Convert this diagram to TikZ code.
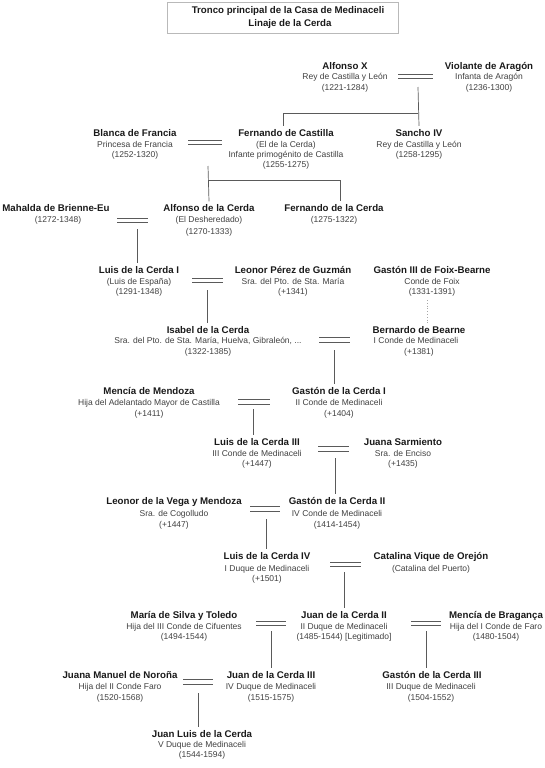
\documentclass[tikz,border=0pt]{standalone}
\usepackage{fontspec}
\setmainfont{Liberation Sans}
\definecolor{linec}{HTML}{5A5A5A}
\definecolor{subc}{HTML}{404040}
\definecolor{namec}{HTML}{1A1A1A}
\tikzset{
  pname/.style={anchor=base, inner xsep=0pt, inner ysep=3pt, text=namec, font=\fontsize{9.7}{11}\selectfont\bfseries},
  pline/.style={anchor=base, inner sep=0pt, text=subc, font=\fontsize{8.5}{10}\selectfont},
  conn/.style={draw=linec, line width=0.7pt},
  wed/.style={draw=linec, line width=0.7pt},
  dotconn/.style={draw=gray!70, line width=0.8pt, dotted}
}
\begin{document}
\begin{tikzpicture}[x=1pt,y=-1pt]
\useasboundingbox (0,0) rectangle (545,768);
% title
\node[draw=gray!55, line width=0.6pt, minimum width=231pt, minimum height=31pt, inner sep=0pt] (titlebox) at (282.5,17.5) {};
\node[pname, inner ysep=0pt] (t1) at (288,13.5) {Tronco principal de la Casa de Medinaceli};
\node[pname, inner ysep=0pt] (t2) at (290,26.5) {Linaje de la Cerda};

% Row 1
\node[pname] (alf) at (345,69.5) {Alfonso X};
\node[pline] (alf1) at (345,79.5) {Rey de Castilla y León};
\node[pline] (alf2) at (345,90) {(1221-1284)};
\node[pname] (vio) at (489,69.5) {Violante de Aragón};
\node[pline] (vio1) at (489,79.5) {Infanta de Aragón};
\node[pline] (vio2) at (489,90) {(1236-1300)};

% Row 2
\node[pname] (bla) at (135,136) {Blanca de Francia};
\node[pline] (bla1) at (135,147) {Princesa de Francia};
\node[pline] (bla2) at (135,157) {(1252-1320)};
\node[pname] (fer) at (286,136) {Fernando de Castilla};
\node[pline] (fer1) at (286,147) {(El de la Cerda)};
\node[pline] (fer2) at (286,157) {Infante primogénito de Castilla};
\node[pline] (fer3) at (286,167) {(1255-1275)};
\node[pname] (san) at (419,136) {Sancho IV};
\node[pline] (san1) at (419,147) {Rey de Castilla y León};
\node[pline] (san2) at (419,157) {(1258-1295)};

% Row 3
\node[pname] (mah) at (56,211.5) {Mahalda de Brienne-Eu};
\node[pline] (mah1) at (58,222.5) {(1272-1348)};
\node[pname] (alc) at (209,211.5) {Alfonso de la Cerda};
\node[pline] (alc1) at (209,222.5) {(El Desheredado)};
\node[pline] (alc2) at (209,234) {(1270-1333)};
\node[pname] (fdc) at (334,211.5) {Fernando de la Cerda};
\node[pline] (fdc1) at (334,222.5) {(1275-1322)};

% Row 4
\node[pname] (lu1) at (139,273.5) {Luis de la Cerda I};
\node[pline] (lu11) at (139,284) {(Luis de España)};
\node[pline] (lu12) at (139,294) {(1291-1348)};
\node[pname] (leo) at (293,273.5) {Leonor Pérez de Guzmán};
\node[pline] (leo1) at (293,284) {Sra. del Pto. de Sta. María};
\node[pline] (leo2) at (293,294) {(+1341)};
\node[pname] (gfx) at (432,273.5) {Gastón III de Foix-Bearne};
\node[pline] (gfx1) at (432,284) {Conde de Foix};
\node[pline] (gfx2) at (432,294) {(1331-1391)};

% Row 5
\node[pname] (isa) at (208,333.5) {Isabel de la Cerda};
\node[pline] (isa1) at (208,343) {Sra. del Pto. de Sta. María, Huelva, Gibraleón, ...};
\node[pline] (isa2) at (208,354) {(1322-1385)};
\node[pname] (ber) at (419,333.5) {Bernardo de Bearne};
\node[pline] (ber1) at (416,343) {I Conde de Medinaceli};
\node[pline] (ber2) at (419,354) {(+1381)};

% Row 6
\node[pname] (mme) at (149,394.5) {Mencía de Mendoza};
\node[pline] (mme1) at (149,405) {Hija del Adelantado Mayor de Castilla};
\node[pline] (mme2) at (149,416) {(+1411)};
\node[pname] (gc1) at (339,394.5) {Gastón de la Cerda I};
\node[pline] (gc11) at (339,405) {II Conde de Medinaceli};
\node[pline] (gc12) at (339,416) {(+1404)};

% Row 7
\node[pname] (lu3) at (257,445.5) {Luis de la Cerda III};
\node[pline] (lu31) at (257,456) {III Conde de Medinaceli};
\node[pline] (lu32) at (257,466) {(+1447)};
\node[pname] (jsa) at (403,445.5) {Juana Sarmiento};
\node[pline] (jsa1) at (403,456) {Sra. de Enciso};
\node[pline] (jsa2) at (403,466) {(+1435)};

% Row 8
\node[pname] (lvm) at (174,504.5) {Leonor de la Vega y Mendoza};
\node[pline] (lvm1) at (174,516) {Sra. de Cogolludo};
\node[pline] (lvm2) at (174,527) {(+1447)};
\node[pname] (gc2) at (337,504.5) {Gastón de la Cerda II};
\node[pline] (gc21) at (337,516) {IV Conde de Medinaceli};
\node[pline] (gc22) at (337,527) {(1414-1454)};

% Row 9
\node[pname] (lu4) at (267,559.5) {Luis de la Cerda IV};
\node[pline] (lu41) at (267,571) {I Duque de Medinaceli};
\node[pline] (lu42) at (267,581) {(+1501)};
\node[pname] (cat) at (431,559.5) {Catalina Vique de Orejón};
\node[pline] (cat1) at (431,571) {(Catalina del Puerto)};

% Row 10
\node[pname] (mst) at (184,618.5) {María de Silva y Toledo};
\node[pline] (mst1) at (184,629) {Hija del III Conde de Cifuentes};
\node[pline] (mst2) at (184,639) {(1494-1544)};
\node[pname] (jc2) at (344,618.5) {Juan de la Cerda II};
\node[pline] (jc21) at (344,629) {II Duque de Medinaceli};
\node[pline] (jc22) at (344,639) {(1485-1544) [Legitimado]};
\node[pname] (mbr) at (496,618.5) {Mencía de Bragança};
\node[pline] (mbr1) at (496,629) {Hija del I Conde de Faro};
\node[pline] (mbr2) at (496,639) {(1480-1504)};

% Row 11
\node[pname] (jmn) at (120,678.5) {Juana Manuel de Noroña};
\node[pline] (jmn1) at (120,689) {Hija del II Conde Faro};
\node[pline] (jmn2) at (120,700) {(1520-1568)};
\node[pname] (jc3) at (271,678.5) {Juan de la Cerda III};
\node[pline] (jc31) at (271,689) {IV Duque de Medinaceli};
\node[pline] (jc32) at (271,700) {(1515-1575)};
\node[pname] (gc3) at (432,678.5) {Gastón de la Cerda III};
\node[pline] (gc31) at (431,689) {III Duque de Medinaceli};
\node[pline] (gc32) at (431,700) {(1504-1552)};

% Row 12
\node[pname] (jlc) at (202,737.5) {Juan Luis de la Cerda};
\node[pline] (jlc1) at (202,747) {V Duque de Medinaceli};
\node[pline] (jlc2) at (202,757) {(1544-1594)};

% ---- marriages (double lines) and descent ----
% Alfonso X = Violante
\coordinate (m1a) at (398,74); \coordinate (m1b) at (433,74);
\coordinate (m1c) at (398,78); \coordinate (m1d) at (433,78);
\draw[wed] (m1a) -- (m1b) (m1c) -- (m1d);
\coordinate (m1) at (418,87);
\coordinate (j1) at (418,113);
\coordinate (j1l) at (283,113);
\draw[conn] (m1) -- (san.north);
\draw[conn] (j1) -- (j1l) -- (j1l |- fer.north);

% Blanca = Fernando
\coordinate (m2a) at (188,140); \coordinate (m2b) at (222,140);
\coordinate (m2c) at (188,144); \coordinate (m2d) at (222,144);
\draw[wed] (m2a) -- (m2b) (m2c) -- (m2d);
\coordinate (m2) at (208,166);
\coordinate (j2) at (208,180);
\coordinate (j2r) at (340,180);
\draw[conn] (m2) -- (alc.north);
\draw[conn] (j2) -- (j2r) -- (j2r |- fdc.north);

% Mahalda = Alfonso de la Cerda
\coordinate (m3a) at (117,218); \coordinate (m3b) at (148,218);
\coordinate (m3c) at (117,222); \coordinate (m3d) at (148,222);
\draw[wed] (m3a) -- (m3b) (m3c) -- (m3d);
\coordinate (m3) at (137,229);
\draw[conn] (m3) -- (m3 |- lu1.north);

% Luis I = Leonor
\coordinate (m4a) at (192,278); \coordinate (m4b) at (223,278);
\coordinate (m4c) at (192,282); \coordinate (m4d) at (223,282);
\draw[wed] (m4a) -- (m4b) (m4c) -- (m4d);
\coordinate (m4) at (207,290);
\draw[conn] (m4) -- (m4 |- isa.north);

% Gaston III de Foix ... Bernardo
\coordinate (d5) at (427,300);
\draw[dotconn] (d5) -- (d5 |- ber.north);

% Isabel = Bernardo
\coordinate (m5a) at (319,337); \coordinate (m5b) at (350,337);
\coordinate (m5c) at (319,342); \coordinate (m5d) at (350,342);
\draw[wed] (m5a) -- (m5b) (m5c) -- (m5d);
\coordinate (m5) at (334,350);
\draw[conn] (m5) -- (m5 |- gc1.north);

% Mencia = Gaston I
\coordinate (m6a) at (238,399); \coordinate (m6b) at (270,399);
\coordinate (m6c) at (238,404); \coordinate (m6d) at (270,404);
\draw[wed] (m6a) -- (m6b) (m6c) -- (m6d);
\coordinate (m6) at (253,409);
\draw[conn] (m6) -- (m6 |- lu3.north);

% Luis III = Juana Sarmiento
\coordinate (m7a) at (318,446); \coordinate (m7b) at (349,446);
\coordinate (m7c) at (318,451); \coordinate (m7d) at (349,451);
\draw[wed] (m7a) -- (m7b) (m7c) -- (m7d);
\coordinate (m7) at (335,458);
\draw[conn] (m7) -- (m7 |- gc2.north);

% Leonor de la Vega = Gaston II
\coordinate (m8a) at (250,506); \coordinate (m8b) at (280,506);
\coordinate (m8c) at (250,511); \coordinate (m8d) at (280,511);
\draw[wed] (m8a) -- (m8b) (m8c) -- (m8d);
\coordinate (m8) at (266,519);
\draw[conn] (m8) -- (m8 |- lu4.north);

% Luis IV = Catalina
\coordinate (m9a) at (330,562); \coordinate (m9b) at (361,562);
\coordinate (m9c) at (330,566); \coordinate (m9d) at (361,566);
\draw[wed] (m9a) -- (m9b) (m9c) -- (m9d);
\coordinate (m9) at (344,572);
\draw[conn] (m9) -- (m9 |- jc2.north);

% Maria = Juan II
\coordinate (m10a) at (256,621); \coordinate (m10b) at (286,621);
\coordinate (m10c) at (256,625); \coordinate (m10d) at (286,625);
\draw[wed] (m10a) -- (m10b) (m10c) -- (m10d);
\coordinate (m10) at (271,631);
\draw[conn] (m10) -- (m10 |- jc3.north);

% Juan II = Mencia de Braganca
\coordinate (m11a) at (411,621); \coordinate (m11b) at (441,621);
\coordinate (m11c) at (411,625); \coordinate (m11d) at (441,625);
\draw[wed] (m11a) -- (m11b) (m11c) -- (m11d);
\coordinate (m11) at (426,631);
\draw[conn] (m11) -- (m11 |- gc3.north);

% Juana Manuel = Juan III
\coordinate (m12a) at (183,679); \coordinate (m12b) at (213,679);
\coordinate (m12c) at (183,684); \coordinate (m12d) at (213,684);
\draw[wed] (m12a) -- (m12b) (m12c) -- (m12d);
\coordinate (m12) at (198,693);
\draw[conn] (m12) -- (m12 |- jlc.north);
\end{tikzpicture}
\end{document}
